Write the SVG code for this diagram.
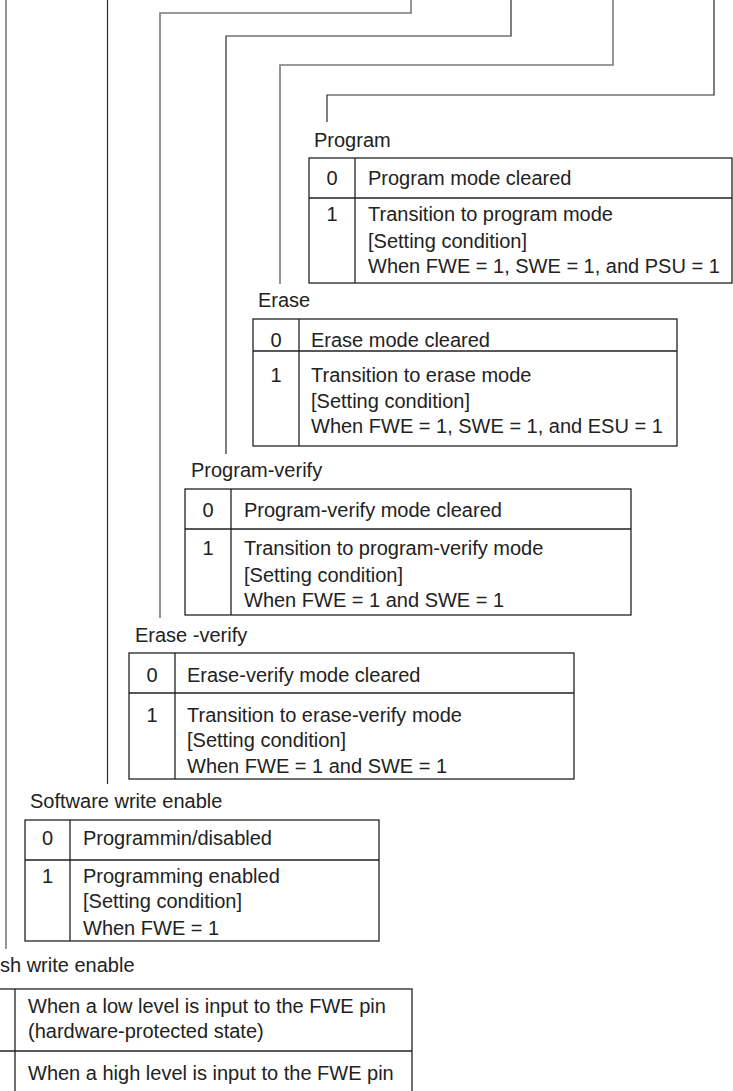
<svg xmlns="http://www.w3.org/2000/svg" width="733" height="1091" viewBox="0 0 733 1091">
<style>
text{font-family:"Liberation Sans",Arial,sans-serif;font-size:20px;fill:#222}
.c{text-anchor:middle}
.b{fill:#fff;stroke:#222;stroke-width:1.3}
.d{stroke:#222;stroke-width:1.3;fill:none}
.ln{fill:none;stroke:#2a2a2a;stroke-width:1.2}
.lg{fill:none;stroke:#7a7a7a;stroke-width:1.6}
</style>
<rect width="733" height="1091" fill="#fff"/>
<g id="connectors">
<path class="lg" d="M6,0V949"/>
<path class="ln" d="M107.5,0V784"/>
<path class="lg" d="M411,0V13H160V618"/>
<path class="ln" d="M511,0V36H226V454"/>
<path class="lg" d="M613,0V65H280V284"/>
<path class="ln" d="M714,0V95H327V122"/>
</g>
<g id="program">
<text x="314" y="147">Program</text>
<rect class="b" x="309" y="158" width="423" height="125"/>
<path class="d" d="M355,158V283M309,198H732"/>
<text class="c" x="332" y="185">0</text>
<text x="368" y="185">Program mode cleared</text>
<text class="c" x="332" y="221">1</text>
<text x="368" y="221">Transition to program mode</text>
<text x="368" y="248">[Setting condition]</text>
<text x="368" y="273">When FWE = 1, SWE = 1, and PSU = 1</text>
</g>
<g id="erase">
<text x="258" y="307">Erase</text>
<rect class="b" x="253" y="319" width="424" height="127"/>
<path class="d" d="M299,319V446M253,351H677"/>
<text class="c" x="276" y="347">0</text>
<text x="311" y="347">Erase mode cleared</text>
<text class="c" x="276" y="382">1</text>
<text x="311" y="382">Transition to erase mode</text>
<text x="311" y="408">[Setting condition]</text>
<text x="311" y="433">When FWE = 1, SWE = 1, and ESU = 1</text>
</g>
<g id="program-verify">
<text x="191" y="477">Program-verify</text>
<rect class="b" x="185" y="489" width="446" height="126"/>
<path class="d" d="M231,489V615M185,529H631"/>
<text class="c" x="208" y="517">0</text>
<text x="244" y="517">Program-verify mode cleared</text>
<text class="c" x="208" y="555">1</text>
<text x="244" y="555">Transition to program-verify mode</text>
<text x="244" y="582">[Setting condition]</text>
<text x="244" y="607">When FWE = 1 and SWE = 1</text>
</g>
<g id="erase-verify">
<text x="135" y="642">Erase -verify</text>
<rect class="b" x="129" y="653" width="445" height="126"/>
<path class="d" d="M175,653V779M129,693H574"/>
<text class="c" x="152" y="682">0</text>
<text x="187" y="682">Erase-verify mode cleared</text>
<text class="c" x="152" y="722">1</text>
<text x="187" y="722">Transition to erase-verify mode</text>
<text x="187" y="747">[Setting condition]</text>
<text x="187" y="773">When FWE = 1 and SWE = 1</text>
</g>
<g id="software-write-enable">
<text x="30" y="808">Software write enable</text>
<rect class="b" x="25" y="820" width="354" height="121"/>
<path class="d" d="M70,820V941M25,860H379"/>
<text class="c" x="47.5" y="845">0</text>
<text x="83" y="845">Programmin/disabled</text>
<text class="c" x="47.5" y="883">1</text>
<text x="83" y="883">Programming enabled</text>
<text x="83" y="908">[Setting condition]</text>
<text x="83" y="935">When FWE = 1</text>
</g>
<g id="flash-write-enable">
<text x="0" y="972">sh write enable</text>
<rect class="b" x="-40" y="989" width="452" height="130"/>
<path class="d" d="M15,989V1091M-40,1051H412"/>
<text x="28" y="1013">When a low level is input to the FWE pin</text>
<text x="28" y="1038">(hardware-protected state)</text>
<text x="28" y="1080">When a high level is input to the FWE pin</text>
</g>
</svg>
